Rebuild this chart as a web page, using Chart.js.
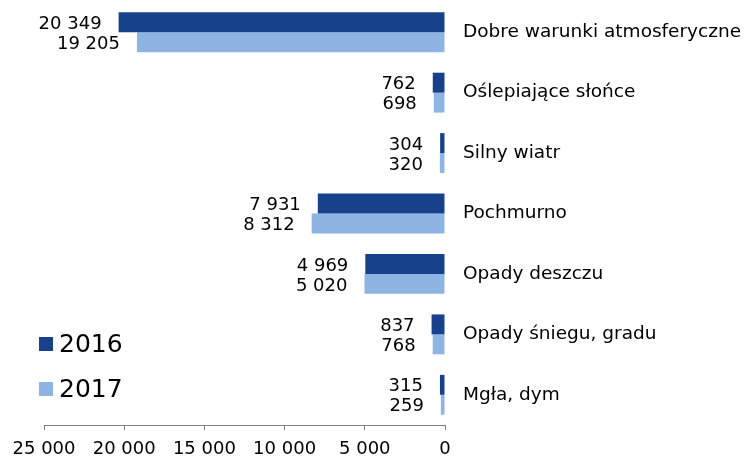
<!DOCTYPE html>
<html>
<head>
<meta charset="utf-8">
<script src="https://cdn.jsdelivr.net/npm/chart.js@4/dist/chart.umd.min.js"></script>
<style>
  html, body { margin: 0; padding: 0; background: #fff; }
</style>
</head>
<body>
<canvas id="weatherChart" width="747" height="458"></canvas>
<script>
// Wypadki wg warunków atmosferycznych, 2016 vs 2017
const categories = ['Dobre warunki atmosferyczne', 'Oślepiające słońce', 'Silny wiatr', 'Pochmurno', 'Opady deszczu', 'Opady śniegu, gradu', 'Mgła, dym'];
const values2016 = [20349, 762, 304, 7931, 4969, 837, 315];
const values2017 = [19205, 698, 320, 8312, 5020, 768, 259];
const seriesNames = ['2016', '2017'];
const xTicks = [0, 5000, 10000, 15000, 20000, 25000];

const FONT = 'DejaVu Sans, Verdana, sans-serif';
const DARK = '#17428b';
const LIGHT = '#8eb4e3';

function fmt(n) {
    return String(n).replace(/\B(?=(\d{3})+(?!\d))/g, ' ');
}

// value labels on the left end of each bar
const barLabels = {
    id: 'barLabels',
    afterDatasetsDraw(chart) {
        const ctx = chart.ctx;
        ctx.save();
        ctx.font = '18px ' + FONT;
        ctx.fillStyle = '#000';
        ctx.textAlign = 'right';
        ctx.textBaseline = 'middle';
        chart.data.datasets.forEach((ds, i) => {
            chart.getDatasetMeta(i).data.forEach((bar, j) => {
                ctx.fillText(fmt(ds.data[j]), bar.x - 17, bar.y + 2);
            });
        });
        ctx.restore();
    }
};

// legend in the bottom-left corner of the plot
const cornerLegend = {
    id: 'cornerLegend',
    afterDraw(chart) {
        const ctx = chart.ctx;
        ctx.save();
        ctx.font = '25px ' + FONT;
        ctx.textBaseline = 'middle';
        chart.data.datasets.forEach((ds, i) => {
            const y = 344 + i * 45;
            ctx.fillStyle = ds.backgroundColor;
            ctx.fillRect(39, y - 7, 14, 14);
            ctx.fillStyle = '#000';
            ctx.fillText(ds.label, 59, y + 1);
        });
        ctx.restore();
    }
};

new Chart(document.getElementById('weatherChart'), {
    type: 'bar',
    data: {
        labels: categories,
        datasets: [
            { label: seriesNames[0], data: values2016, backgroundColor: DARK },
            { label: seriesNames[1], data: values2017, backgroundColor: LIGHT }
        ]
    },
    options: {
        indexAxis: 'y',
        responsive: false,
        animation: false,
        devicePixelRatio: 1,
        layout: { padding: { left: 44, top: 2, right: 0, bottom: 0 } },
        datasets: { bar: { barPercentage: 1, categoryPercentage: 0.66 } },
        plugins: { legend: { display: false }, tooltip: { enabled: false } },
        scales: {
            x: {
                reverse: true,
                min: 0,
                max: 25000,
                afterBuildTicks: (scale) => { scale.ticks = xTicks.map(v => ({ value: v })); },
                afterFit: (scale) => { scale.height = 33; },
                grid: { drawOnChartArea: false, drawTicks: true, tickLength: 5, color: '#808080' },
                border: { display: true, color: '#808080' },
                ticks: {
                    padding: 9,
                    color: '#000',
                    font: { family: FONT, size: 18 },
                    maxRotation: 0,
                    callback: (v) => fmt(v)
                }
            },
            y: {
                position: 'right',
                afterFit: (scale) => {
                    scale.width = 302;
                    scale.paddingTop = 0;
                    scale.paddingBottom = 0;
                },
                grid: { display: false, drawTicks: false },
                border: { display: false },
                ticks: {
                    padding: 18,
                    color: '#000',
                    font: { family: FONT, size: 18.5 }
                }
            }
        }
    },
    plugins: [barLabels, cornerLegend]
});
</script>
</body>
</html>
